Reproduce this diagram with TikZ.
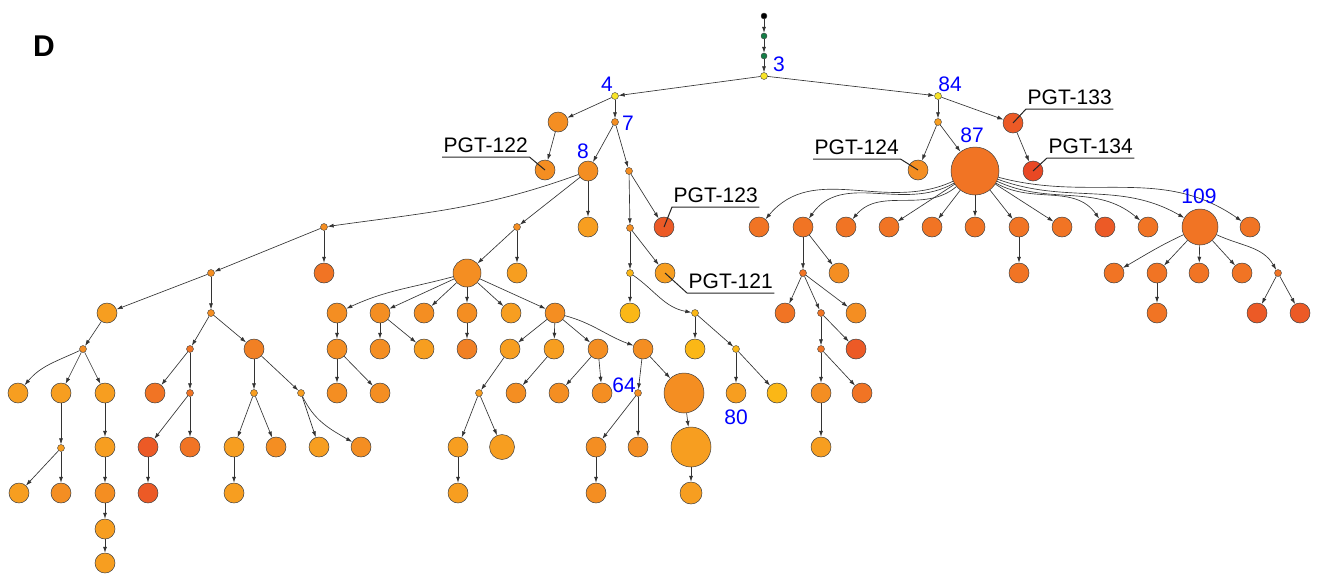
\documentclass[tikz,border=0pt]{standalone}
\usepackage{fontspec}
\setmainfont{Liberation Sans}
\usetikzlibrary{arrows.meta}
\definecolor{cYe}{RGB}{248,228,40}
\definecolor{cGr}{RGB}{20,125,70}
\definecolor{oYel}{RGB}{251,183,22}
\definecolor{oLt}{RGB}{247,158,32}
\definecolor{oMd}{RGB}{244,142,34}
\definecolor{oMdD}{RGB}{241,128,36}
\definecolor{oDk}{RGB}{241,116,36}
\definecolor{oRd}{RGB}{236,90,38}
\definecolor{oRd2}{RGB}{233,72,36}
\tikzset{
  nd/.style={circle, draw=black!75, line width=0.5pt, inner sep=0pt, minimum size=20pt},
  dt/.style={circle, draw=black!75, line width=0.4pt, inner sep=0pt, minimum size=7pt},
  ed/.style={draw=black!80, line width=0.65pt, -{Latex[length=6pt,width=4pt]}},
  lab/.style={text=blue, font=\fontsize{21}{21}\selectfont, inner sep=0pt},
  pgt/.style={font=\fontsize{21}{21}\selectfont, inner xsep=1.5pt, inner ysep=4pt},
  uline/.style={draw=black!85, line width=1pt},
}
\begin{document}
\begin{tikzpicture}[x=1pt,y=-1pt]
\useasboundingbox (0,0) rectangle (1319,576);
\node[font=\fontsize{30}{30}\selectfont\bfseries] (D) at (44,46) {D};
% top chain
\node[dt, minimum size=6pt, fill=black] (t0) at (764,16) {};
\node[dt, minimum size=6pt, fill=cGr] (t1) at (764,36) {};
\node[dt, minimum size=6pt, fill=cGr] (t2) at (764,56) {};
\node[dt, fill=cYe] (n3) at (764,76) {};
\node[dt, fill=cYe] (n4) at (615,96) {};
\node[dt, fill=cYe] (n84) at (938,96) {};
% left of 4
\node[nd, fill=oMd] (a1) at (558,122) {};
\node[nd, fill=oMd] (p122) at (545,170) {};
\node[dt, fill=oMd] (n7) at (615,122) {};
\node[nd, fill=oMd] (n8) at (588,171) {};
\node[dt, fill=oMd] (s1) at (629,171) {};
\node[dt, fill=oMd] (s2) at (630,228) {};
\node[nd, fill=oRd] (p123) at (664,227) {};
\node[dt, fill=oYel] (s3) at (630,273) {};
\node[nd, fill=oLt] (p121) at (665,273) {};
\node[nd, fill=oYel] (c1) at (630,313) {};
\node[dt, fill=oYel] (s4) at (695,313) {};
\node[nd, fill=oYel] (c2) at (695,349) {};
\node[dt, fill=oYel] (s5) at (736,349) {};
\node[nd, fill=oLt] (n80) at (736,393) {};
\node[nd, fill=oYel] (c3) at (777,393) {};
\node[nd, fill=oLt] (c4) at (588,227) {};
\node[dt, fill=oMd] (p1) at (324,227) {};
\node[dt, fill=oMd] (p2) at (517,227) {};
\node[nd, fill=oDk] (c5) at (324,273) {};
\node[dt, fill=oMd] (p3) at (211,273) {};
\node[nd, fill=oLt] (q1) at (107,313) {};
\node[dt, fill=oMd] (q2) at (211,313) {};
\node[dt, fill=oMd] (q3) at (83,349) {};
\node[nd, fill=oLt] (l1) at (18,393) {};
\node[nd, fill=oLt] (l2) at (61,393) {};
\node[nd, fill=oLt] (l3) at (105,393) {};
\node[dt, fill=oLt] (l2d) at (61,448) {};
\node[nd, fill=oLt] (l4) at (19,493) {};
\node[nd, fill=oMd] (l5) at (61,493) {};
\node[nd, fill=oLt] (l6) at (105,447) {};
\node[nd, fill=oMd] (l7) at (105,493) {};
\node[nd, fill=oLt] (l8) at (105,529) {};
\node[nd, fill=oLt] (l9) at (105,563) {};
\node[dt, fill=oDk] (q4) at (190,349) {};
\node[nd, fill=oMdD] (q5) at (254,349) {};
\node[nd, fill=oDk] (m1) at (155,393) {};
\node[dt, fill=oDk] (q6) at (190,393) {};
\node[nd, fill=oRd] (m2) at (148,447) {};
\node[nd, fill=oRd] (m3) at (148,493) {};
\node[nd, fill=oDk] (m4) at (190,447) {};
\node[dt, fill=oLt] (q7) at (254,393) {};
\node[dt, fill=oLt] (q8) at (301,393) {};
\node[nd, fill=oLt] (m5) at (234,447) {};
\node[nd, fill=oLt] (m6) at (234,493) {};
\node[nd, fill=oMd] (m7) at (276,447) {};
\node[nd, fill=oLt] (m8) at (319,447) {};
\node[nd, fill=oMd] (m9) at (361,447) {};
% middle subtree
\node[nd, minimum size=28pt, fill=oMd] (P) at (467,273) {};
\node[nd, fill=oLt] (c6) at (517,273) {};
\node[nd, fill=oMd] (k1) at (337,313) {};
\node[nd, fill=oMd] (k2) at (380,313) {};
\node[nd, fill=oMd] (k3) at (424,313) {};
\node[nd, fill=oMd] (k4) at (467,313) {};
\node[nd, fill=oLt] (k5) at (511,313) {};
\node[nd, fill=oMd] (R) at (555,313) {};
\node[nd, fill=oMd] (k6) at (337,349) {};
\node[nd, fill=oMd] (k7) at (337,393) {};
\node[nd, fill=oMd] (k8) at (380,393) {};
\node[nd, fill=oMd] (k9) at (380,349) {};
\node[nd, fill=oLt] (k10) at (424,349) {};
\node[nd, fill=oMdD] (k11) at (467,349) {};
\node[nd, fill=oLt] (r1) at (510,349) {};
\node[nd, fill=oLt] (r2) at (554,349) {};
\node[nd, fill=oMd] (r3) at (598,349) {};
\node[nd, fill=oMd] (S) at (643,349) {};
\node[dt, fill=oLt] (r1d) at (479,393) {};
\node[nd, fill=oLt] (r4) at (458,447) {};
\node[nd, fill=oLt] (r5) at (458,493) {};
\node[nd, minimum size=25pt, fill=oLt] (r6) at (502,447) {};
\node[nd, fill=oMd] (r7) at (516,393) {};
\node[nd, fill=oMd] (r8) at (559,393) {};
\node[nd, fill=oMd] (r9) at (602,393) {};
\node[dt, fill=oMd] (n64) at (638,393) {};
\node[nd, minimum size=40pt, fill=oMd] (T) at (684,393) {};
\node[nd, fill=oMd] (r10) at (596,447) {};
\node[nd, fill=oMd] (r11) at (596,493) {};
\node[nd, fill=oMd] (r12) at (638,447) {};
\node[nd, minimum size=40pt, fill=oLt] (U) at (691,447) {};
\node[nd, minimum size=22pt, fill=oLt] (r13) at (691,493) {};
% right subtree
\node[dt, fill=oLt] (v1) at (938,122) {};
\node[nd, fill=oRd] (p133) at (1013,123) {};
\node[nd, fill=oMd] (p124) at (918,170) {};
\node[nd, minimum size=48pt, fill=oDk] (n87) at (975,171) {};
\node[nd, fill=oRd2] (p134) at (1033,171) {};
\node[nd, fill=oDk] (w1) at (759,227) {};
\node[nd, fill=oDk] (w2) at (803,227) {};
\node[nd, fill=oDk] (w3) at (846,227) {};
\node[nd, fill=oDk] (w4) at (889,227) {};
\node[nd, fill=oDk] (w5) at (932,227) {};
\node[nd, fill=oDk] (w6) at (975,227) {};
\node[nd, fill=oDk] (w7) at (1019,227) {};
\node[nd, fill=oDk] (w8) at (1062,227) {};
\node[nd, fill=oRd] (w9) at (1105,227) {};
\node[nd, fill=oDk] (w10) at (1148,227) {};
\node[nd, minimum size=36pt, fill=oDk] (n109) at (1200,227) {};
\node[nd, fill=oDk] (w11) at (1250,227) {};
\node[dt, fill=oDk] (x1) at (803,273) {};
\node[nd, fill=oMd] (x2) at (839,273) {};
\node[nd, fill=oDk] (x3) at (785,313) {};
\node[dt, fill=oDk] (x4) at (821,313) {};
\node[nd, fill=oMd] (x5) at (856,313) {};
\node[dt, fill=oDk] (x6) at (821,349) {};
\node[nd, fill=oRd] (x7) at (856,349) {};
\node[nd, fill=oMd] (x8) at (821,393) {};
\node[nd, fill=oDk] (x9) at (862,393) {};
\node[nd, fill=oLt] (x10) at (821,447) {};
\node[nd, fill=oDk] (w7a) at (1019,273) {};
\node[nd, fill=oDk] (y1) at (1114,273) {};
\node[nd, fill=oDk] (y2) at (1157,273) {};
\node[nd, fill=oDk] (y3) at (1199,273) {};
\node[nd, fill=oDk] (y4) at (1242,273) {};
\node[dt, fill=oDk] (y5) at (1278,273) {};
\node[nd, fill=oDk] (y6) at (1157,313) {};
\node[nd, fill=oRd] (y7) at (1257,313) {};
\node[nd, fill=oRd] (y8) at (1300,313) {};
% straight edges
\foreach \a/\b in {t0/t1,t1/t2,t2/n3,n3/n4,n3/n84,n4/a1,n4/n7,a1/p122,n7/n8,n7/s1,
  s1/s2,s1/p123,s2/s3,s2/p121,s3/c1,s4/c2,s4/s5,s5/n80,s5/c3,n8/c4,n8/p2,p1/c5,p1/p3,
  p3/q1,p3/q2,q1/q3,q3/l2,q3/l3,l2/l2d,l2d/l4,l2d/l5,l3/l6,l6/l7,l7/l8,l8/l9,q2/q4,q2/q5,
  q4/m1,q4/q6,q6/m2,q6/m4,m2/m3,q5/q7,q5/q8,q7/m5,q7/m7,m5/m6,q8/m8,p2/P,p2/c6,
  P/k2,P/k3,P/k4,P/k5,P/R,k1/k6,k6/k7,k6/k8,k2/k9,k2/k10,k4/k11,R/r1,R/r2,R/r3,
  r1/r1d,r1d/r4,r1d/r6,r4/r5,r2/r7,r3/r8,r3/r9,S/n64,S/T,n64/r10,n64/r12,r10/r11,
  T/U,U/r13,n84/v1,n84/p133,v1/p124,v1/n87,p133/p134,n87/w4,n87/w5,n87/w6,n87/w7,
  n87/w8,w2/x1,w2/x2,x1/x3,x1/x4,x1/x5,x4/x6,x4/x7,x6/x8,x6/x9,x8/x10,w7/w7a,
  n109/y2,n109/y3,n109/y4,y2/y6,y5/y7,y5/y8}
  {\draw[ed] (\a) -- (\b);}
% curved edges
\draw[ed] (n8) to[out=200, in=8] (p1);
\draw[ed] (R) to[out=-15, in=160] (S);
\draw[ed] (P) to[out=195, in=25] (k1);
\draw[ed] (q3) to[out=205, in=50] (l1);
\draw[ed] (q8) to[out=-65, in=150] (m9);
\draw[ed] (s3) to[out=-35, in=170] (s4);
\draw[ed] (n87) to[out=205, in=50] (w1);
\draw[ed] (n87) to[out=210, in=55] (w2);
\draw[ed] (n87) to[out=220, in=50] (w3);
\draw[ed] (n87) to[out=-30, in=125] (w9);
\draw[ed] (n87) to[out=-25, in=140] (w10);
\draw[ed] (n87) to[out=-20, in=150] (n109);
\draw[ed] (n87) to[out=-15, in=145] (w11);
\draw[ed] (n109) to[out=205, in=30] (y1);
\draw[ed] (n109) to[out=-25, in=120] (y5);
% blue labels
\node[lab] (L3) at (779,64) {3};
\node[lab] (L4) at (607,84) {4};
\node[lab] (L7) at (628,123) {7};
\node[lab] (L8) at (583,151) {8};
\node[lab] (L84) at (950,84) {84};
\node[lab] (L87) at (972,135) {87};
\node[lab] (L109) at (1199,196) {109};
\node[lab] (L64) at (624,385) {64};
\node[lab] (L80) at (736,417) {80};
% PGT labels
\node[pgt, anchor=south west] (T122) at (442,157) {PGT-122};
\draw[uline] (T122.south west) -- (T122.south east) -- (p122.center);
\node[pgt, anchor=south west] (T123) at (672,207) {PGT-123};
\draw[uline] (T123.south east) -- (T123.south west) -- (p123.center);
\node[pgt, anchor=south west] (T121) at (687,293) {PGT-121};
\draw[uline] (T121.south east) -- (T121.south west) -- (p121.center);
\node[pgt, anchor=south west] (T124) at (813,159) {PGT-124};
\draw[uline] (T124.south west) -- (T124.south east) -- (p124.center);
\node[pgt, anchor=south west] (T133) at (1026,109) {PGT-133};
\draw[uline] (T133.south east) -- (T133.south west) -- (p133.center);
\node[pgt, anchor=south west] (T134) at (1047,158) {PGT-134};
\draw[uline] (T134.south east) -- (T134.south west) -- (p134.center);
\end{tikzpicture}
\end{document}
